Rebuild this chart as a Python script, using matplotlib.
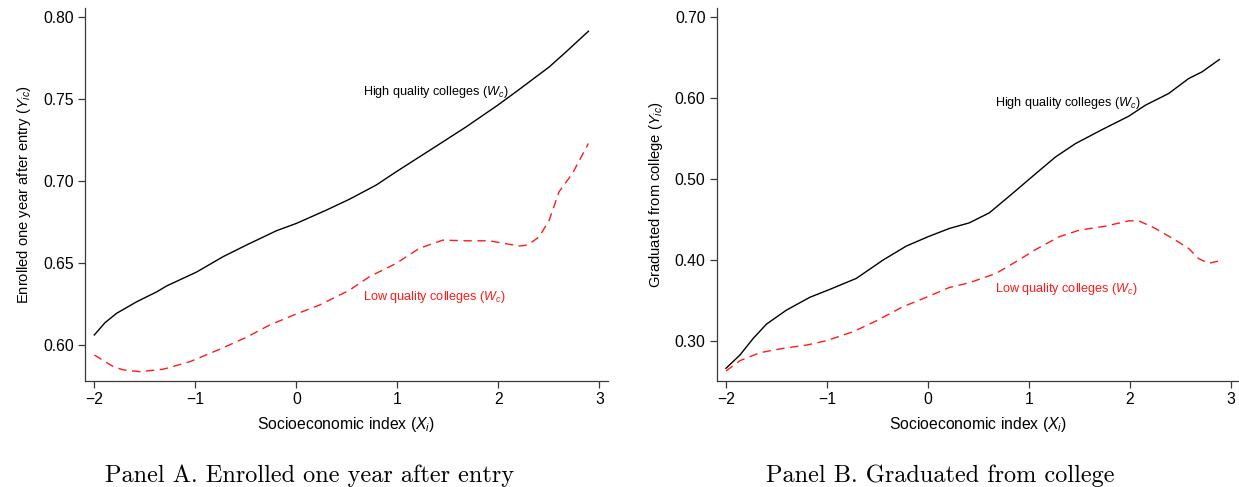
import matplotlib
matplotlib.use("Agg")
import matplotlib.pyplot as plt
from matplotlib.ticker import FormatStrFormatter, FuncFormatter

plt.rcParams["font.family"] = ["Liberation Sans", "DejaVu Sans"]
plt.rcParams["mathtext.fontset"] = "custom"
plt.rcParams["mathtext.rm"] = "Liberation Sans"
plt.rcParams["mathtext.it"] = "Liberation Sans:italic"
plt.rcParams["axes.unicode_minus"] = True

# Panel A: enrolled one year after entry
a_high_x = [-2.0, -1.894, -1.78, -1.58, -1.38, -1.285, -0.988, -0.725, -0.494, -0.198,
            0.0, 0.296, 0.527, 0.79, 0.988, 1.383, 1.68, 1.992, 2.174, 2.503, 2.668, 2.891]
a_high_y = [0.6061, 0.6136, 0.6193, 0.6264, 0.6325, 0.636, 0.6445, 0.6539, 0.661, 0.6697,
            0.6742, 0.6823, 0.689, 0.6976, 0.7057, 0.7213, 0.7331, 0.7463, 0.7545, 0.7697, 0.7788, 0.7915]
a_low_x = [-2.0, -1.812, -1.713, -1.548, -1.318, -1.054, -0.758, -0.494, -0.264, 0.0, 0.23,
           0.527, 0.724, 0.988, 1.218, 1.449, 1.68, 1.91, 2.207, 2.29, 2.404, 2.503, 2.60, 2.733, 2.891]
a_low_y = [0.5939, 0.5868, 0.5848, 0.5837, 0.5852, 0.5898, 0.5974, 0.6047, 0.6122, 0.6189, 0.6244,
           0.6335, 0.6417, 0.6498, 0.659, 0.664, 0.6636, 0.6636, 0.6604, 0.661, 0.666, 0.6762, 0.6935, 0.7047, 0.723]

# Panel B: graduated from college
b_high_x = [-2.0, -1.862, -1.73, -1.598, -1.40, -1.17, -0.972, -0.709, -0.445, -0.214, 0.0,
            0.213, 0.41, 0.609, 0.838, 1.07, 1.265, 1.463, 1.727, 1.99, 2.155, 2.385, 2.583, 2.715, 2.887]
b_high_y = [0.2663, 0.2827, 0.3033, 0.321, 0.3383, 0.354, 0.3638, 0.3774, 0.40, 0.4173, 0.4288,
            0.4391, 0.446, 0.4584, 0.4823, 0.507, 0.5275, 0.544, 0.5613, 0.5778, 0.5914, 0.6058, 0.6243, 0.6325, 0.6478]
b_low_x = [-2.0, -1.862, -1.664, -1.433, -1.203, -1.005, -0.741, -0.51, -0.247, -0.016, 0.213,
           0.41, 0.674, 0.872, 1.07, 1.30, 1.50, 1.763, 1.99, 2.09, 2.254, 2.452, 2.583, 2.68, 2.78, 2.887]
b_low_y = [0.263, 0.2757, 0.2856, 0.291, 0.295, 0.3004, 0.3115, 0.325, 0.3424, 0.354, 0.3662,
           0.372, 0.3835, 0.398, 0.4132, 0.4288, 0.437, 0.442, 0.4485, 0.4485, 0.4391, 0.4247, 0.4144, 0.402, 0.396, 0.399]

x_ticks = [-2, -1, 0, 1, 2, 3]
a_yticks = [0.60, 0.65, 0.70, 0.75, 0.80]
b_yticks = [0.30, 0.40, 0.50, 0.60, 0.70]

W, H = 1239, 487
fig = plt.figure(figsize=(W / 100, H / 100), dpi=100)

ax_a = fig.add_axes([85 / W, 1 - 380.7 / H, 523 / W, 372.4 / H])
ax_b = fig.add_axes([716.7 / W, 1 - 380.7 / H, 522.3 / W, 372.4 / H])

spine_col = "#3a3a3a"


def style(ax, yticks, fmt):
    for s in ("top", "right"):
        ax.spines[s].set_visible(False)
    for s in ("left", "bottom"):
        ax.spines[s].set_color(spine_col)
        ax.spines[s].set_linewidth(0.9)
    ax.set_xticks(x_ticks)
    ax.xaxis.set_major_formatter(FuncFormatter(lambda v, p: f"{int(v)}".replace("-", "\u2212")))
    ax.set_yticks(yticks)
    ax.yaxis.set_major_formatter(FormatStrFormatter(fmt))
    ax.tick_params(axis="both", direction="out", length=5, width=0.9, color=spine_col,
                   labelsize=11.3, pad=3)
    ax.set_xlabel("Socioeconomic index ($X_i$)", fontsize=11.3, labelpad=6)


# Panel A
ax_a.plot(a_high_x, a_high_y, color="black", lw=1.0)
ax_a.plot(a_low_x, a_low_y, color="#ff1a1a", lw=1.0, dashes=(6, 4))
ax_a.set_xlim(-2.092, 3.085)
ax_a.set_ylim(0.5782, 0.8055)
style(ax_a, a_yticks, "%.2f")
ax_a.set_ylabel("Enrolled one year after entry ($Y_{ic}$)", fontsize=10.6, labelpad=7)
ax_a.text(0.655, 0.7545, "High quality colleges ($W_c$)", fontsize=9.1, color="black",
          ha="left", va="center")
ax_a.text(0.655, 0.6295, "Low quality colleges ($W_c$)", fontsize=9.1, color="#ff1a1a",
          ha="left", va="center")

# Panel B
ax_b.plot(b_high_x, b_high_y, color="black", lw=1.0)
ax_b.plot(b_low_x, b_low_y, color="#ff1a1a", lw=1.0, dashes=(6, 4))
ax_b.set_xlim(-2.092, 3.082)
ax_b.set_ylim(0.251, 0.7111)
style(ax_b, b_yticks, "%.2f")
ax_b.set_ylabel("Graduated from college ($Y_{ic}$)", fontsize=10.6, labelpad=7)
ax_b.text(0.668, 0.594, "High quality colleges ($W_c$)", fontsize=9.1, color="black",
          ha="left", va="center")
ax_b.text(0.668, 0.3638, "Low quality colleges ($W_c$)", fontsize=9.1, color="#ff1a1a",
          ha="left", va="center")

# Panel captions
fig.text(310 / W, 1 - 476 / H, "Panel A. Enrolled one year after entry",
         family="cmr10", fontsize=17.5, ha="center", va="center")
fig.text(940 / W, 1 - 476 / H, "Panel B. Graduated from college",
         family="cmr10", fontsize=17.5, ha="center", va="center")

fig.savefig("out.png", dpi=100)
